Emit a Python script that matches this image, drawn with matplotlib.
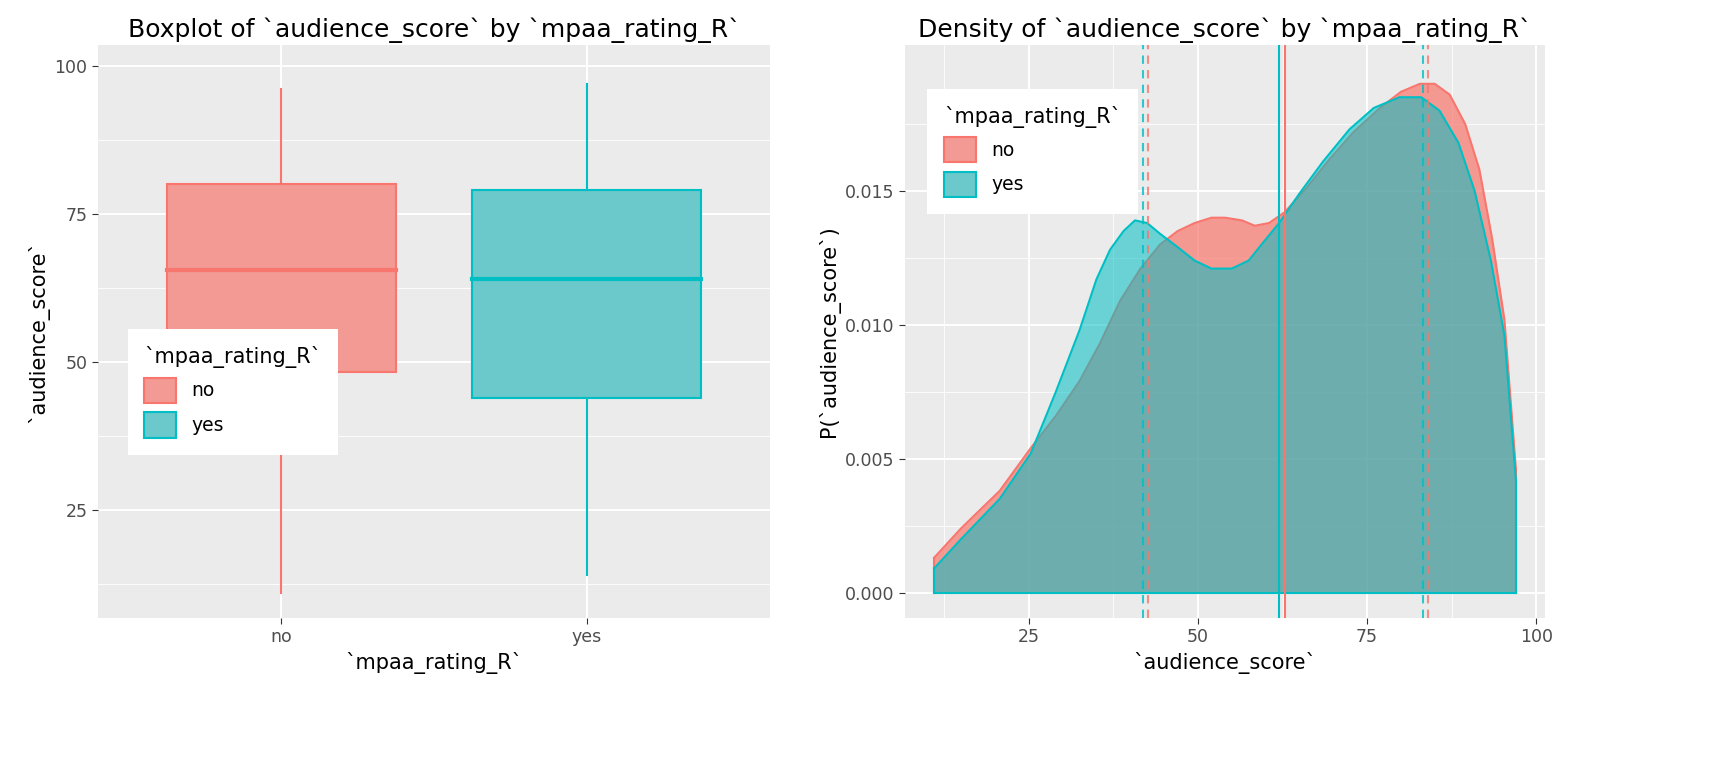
import numpy as np
import matplotlib.pyplot as plt
from matplotlib.patches import Patch

RED = "#F8766D"
CYAN = "#00BFC4"

groups = ["no", "yes"]
# boxplot stats: whisker low, q1, median, q3, whisker high
box_no = [11, 48.3, 65.5, 80, 96]
box_yes = [14, 44, 64, 79, 97]

dens_x_no = [11, 15, 20.7, 25.3, 29, 32.5, 35.5, 38.5, 41.5, 44.4, 47, 49.5, 52, 54, 56.5, 58.4, 60.5,
             62.8, 66, 69.5, 73, 76.9, 80, 82.8, 85, 87.2, 89.5, 91.6, 93.5, 95.3, 97]
dens_y_no = [0.0013, 0.0024, 0.0038, 0.0054, 0.0066, 0.0079, 0.0093, 0.0109, 0.0121, 0.0130, 0.0135, 0.0138,
             0.0140, 0.0140, 0.0139, 0.0137, 0.0138, 0.0142, 0.0151, 0.0162, 0.0172, 0.0181, 0.0187, 0.0190,
             0.0190, 0.0186, 0.0175, 0.0158, 0.0132, 0.0102, 0.0046]
dens_x_yes = [11, 15, 20.7, 25.3, 29, 32.5, 35, 37, 39, 40.7, 42.5, 44.4, 47, 49.5, 52, 55, 57.5, 59.4,
              62, 65, 68.5, 72.4, 76, 79.8, 83, 85.7, 88.5, 90.9, 93.3, 95.3, 97]
dens_y_yes = [0.0009, 0.0020, 0.0035, 0.0052, 0.0075, 0.0098, 0.0117, 0.0128, 0.0135, 0.0139, 0.0138, 0.0134,
              0.0129, 0.0124, 0.0121, 0.0121, 0.0124, 0.0130, 0.0138, 0.0149, 0.0161, 0.0173, 0.0181, 0.0185,
              0.0185, 0.0180, 0.0168, 0.0150, 0.0124, 0.0096, 0.0042]
mean_no, mean_yes = 62.8, 62.0
q_no = [42.6, 84.0]
q_yes = [41.9, 83.2]


def gg_style(ax):
    ax.set_facecolor("#EBEBEB")
    for s in ax.spines.values():
        s.set_visible(False)
    ax.grid(True, which="major", color="white", lw=1.4)
    ax.grid(True, which="minor", color="white", lw=0.6)
    ax.set_axisbelow(True)
    ax.tick_params(which="major", colors="#333333", labelsize=12.5, length=4, color="#333333")
    ax.tick_params(which="minor", length=0)
    for lbl in ax.get_xticklabels() + ax.get_yticklabels():
        lbl.set_color("#4D4D4D")


def add_legend(ax, anchor):
    handles = [Patch(facecolor="#F29A93", edgecolor=RED, lw=1.5),
               Patch(facecolor="#6BC8CB", edgecolor=CYAN, lw=1.5)]
    leg = ax.legend(handles, groups, title="`mpaa_rating_R`", loc="upper left", bbox_to_anchor=anchor,
                    fontsize=13.5, title_fontsize=15, frameon=True, fancybox=False, borderpad=0.9,
                    handlelength=1.7, handleheight=1.7, alignment="left", framealpha=1)
    leg.get_frame().set_linewidth(0)
    leg.set_zorder(10)


fig = plt.figure(figsize=(17.28, 7.68), dpi=100)
ax1 = fig.add_axes([98 / 1728, 150 / 768, 672 / 1728, 573 / 768])
ax2 = fig.add_axes([905 / 1728, 150 / 768, 640 / 1728, 573 / 768])

# boxplot
for i, (st, c, f) in enumerate([(box_no, RED, "#F29A93"), (box_yes, CYAN, "#6BC8CB")]):
    lo, q1, med, q3, hi = st
    ax1.add_patch(plt.Rectangle((i - 0.375, q1), 0.75, q3 - q1, facecolor=f, edgecolor=c, lw=1.5, zorder=3))
    ax1.plot([i - 0.375, i + 0.375], [med, med], color=c, lw=3, zorder=4)
    ax1.plot([i, i], [lo, q1], color=c, lw=1.5, zorder=3)
    ax1.plot([i, i], [q3, hi], color=c, lw=1.5, zorder=3)
ax1.set_xlim(-0.6, 1.6)
ax1.set_ylim(6.8, 103.5)
ax1.set_xticks([0, 1])
ax1.set_xticklabels(groups)
ax1.set_yticks([25, 50, 75, 100])
ax1.set_yticks([12.5, 37.5, 62.5, 87.5], minor=True)
gg_style(ax1)
ax1.set_title("Boxplot of `audience_score` by `mpaa_rating_R`", fontsize=18)
ax1.set_xlabel("`mpaa_rating_R`", fontsize=15)
ax1.set_ylabel("`audience_score`", fontsize=15)
add_legend(ax1, (0.03, 0.52))

# density
ax2.fill_between(dens_x_no, dens_y_no, color=RED, alpha=0.7, lw=0, zorder=2)
ax2.plot(dens_x_no, dens_y_no, color=RED, lw=1.5, zorder=3)
ax2.plot([dens_x_no[0]] * 2, [0, dens_y_no[0]], color=RED, lw=1.5, zorder=3)
ax2.plot([dens_x_no[-1]] * 2, [0, dens_y_no[-1]], color=RED, lw=1.5, zorder=3)
ax2.fill_between(dens_x_yes, dens_y_yes, color=CYAN, alpha=0.55, lw=0, zorder=4)
ax2.plot(dens_x_yes, dens_y_yes, color=CYAN, lw=1.5, zorder=5)
ax2.plot([dens_x_yes[0]] * 2, [0, dens_y_yes[0]], color=CYAN, lw=1.5, zorder=5)
ax2.plot([dens_x_yes[-1]] * 2, [0, dens_y_yes[-1]], color=CYAN, lw=1.5, zorder=5)
ax2.plot([dens_x_yes[0], dens_x_yes[-1]], [0, 0], color=CYAN, lw=1.5, zorder=5)
ax2.axvline(mean_no, color=RED, lw=1.5, zorder=6)
ax2.axvline(mean_yes, color=CYAN, lw=1.5, zorder=6)
for v in q_no:
    ax2.axvline(v, color=RED, lw=1.5, ls=(0, (4, 3)), zorder=6, alpha=0.8)
for v in q_yes:
    ax2.axvline(v, color=CYAN, lw=1.5, ls=(0, (4, 3)), zorder=6, alpha=0.8)
ax2.set_xlim(6.7, 101.3)
ax2.set_ylim(-0.00095, 0.02045)
ax2.set_xticks([25, 50, 75, 100])
ax2.set_xticks([12.5, 37.5, 62.5, 87.5], minor=True)
ax2.set_yticks([0, 0.005, 0.010, 0.015])
ax2.set_yticks([0.0025, 0.0075, 0.0125, 0.0175], minor=True)
ax2.set_yticklabels(["0.000", "0.005", "0.010", "0.015"])
gg_style(ax2)
ax2.set_title("Density of `audience_score` by `mpaa_rating_R`", fontsize=18)
ax2.set_xlabel("`audience_score`", fontsize=15)
ax2.set_ylabel("P(`audience_score`)", fontsize=15)
add_legend(ax2, (0.02, 0.94))

fig.savefig("out.png", dpi=100)
